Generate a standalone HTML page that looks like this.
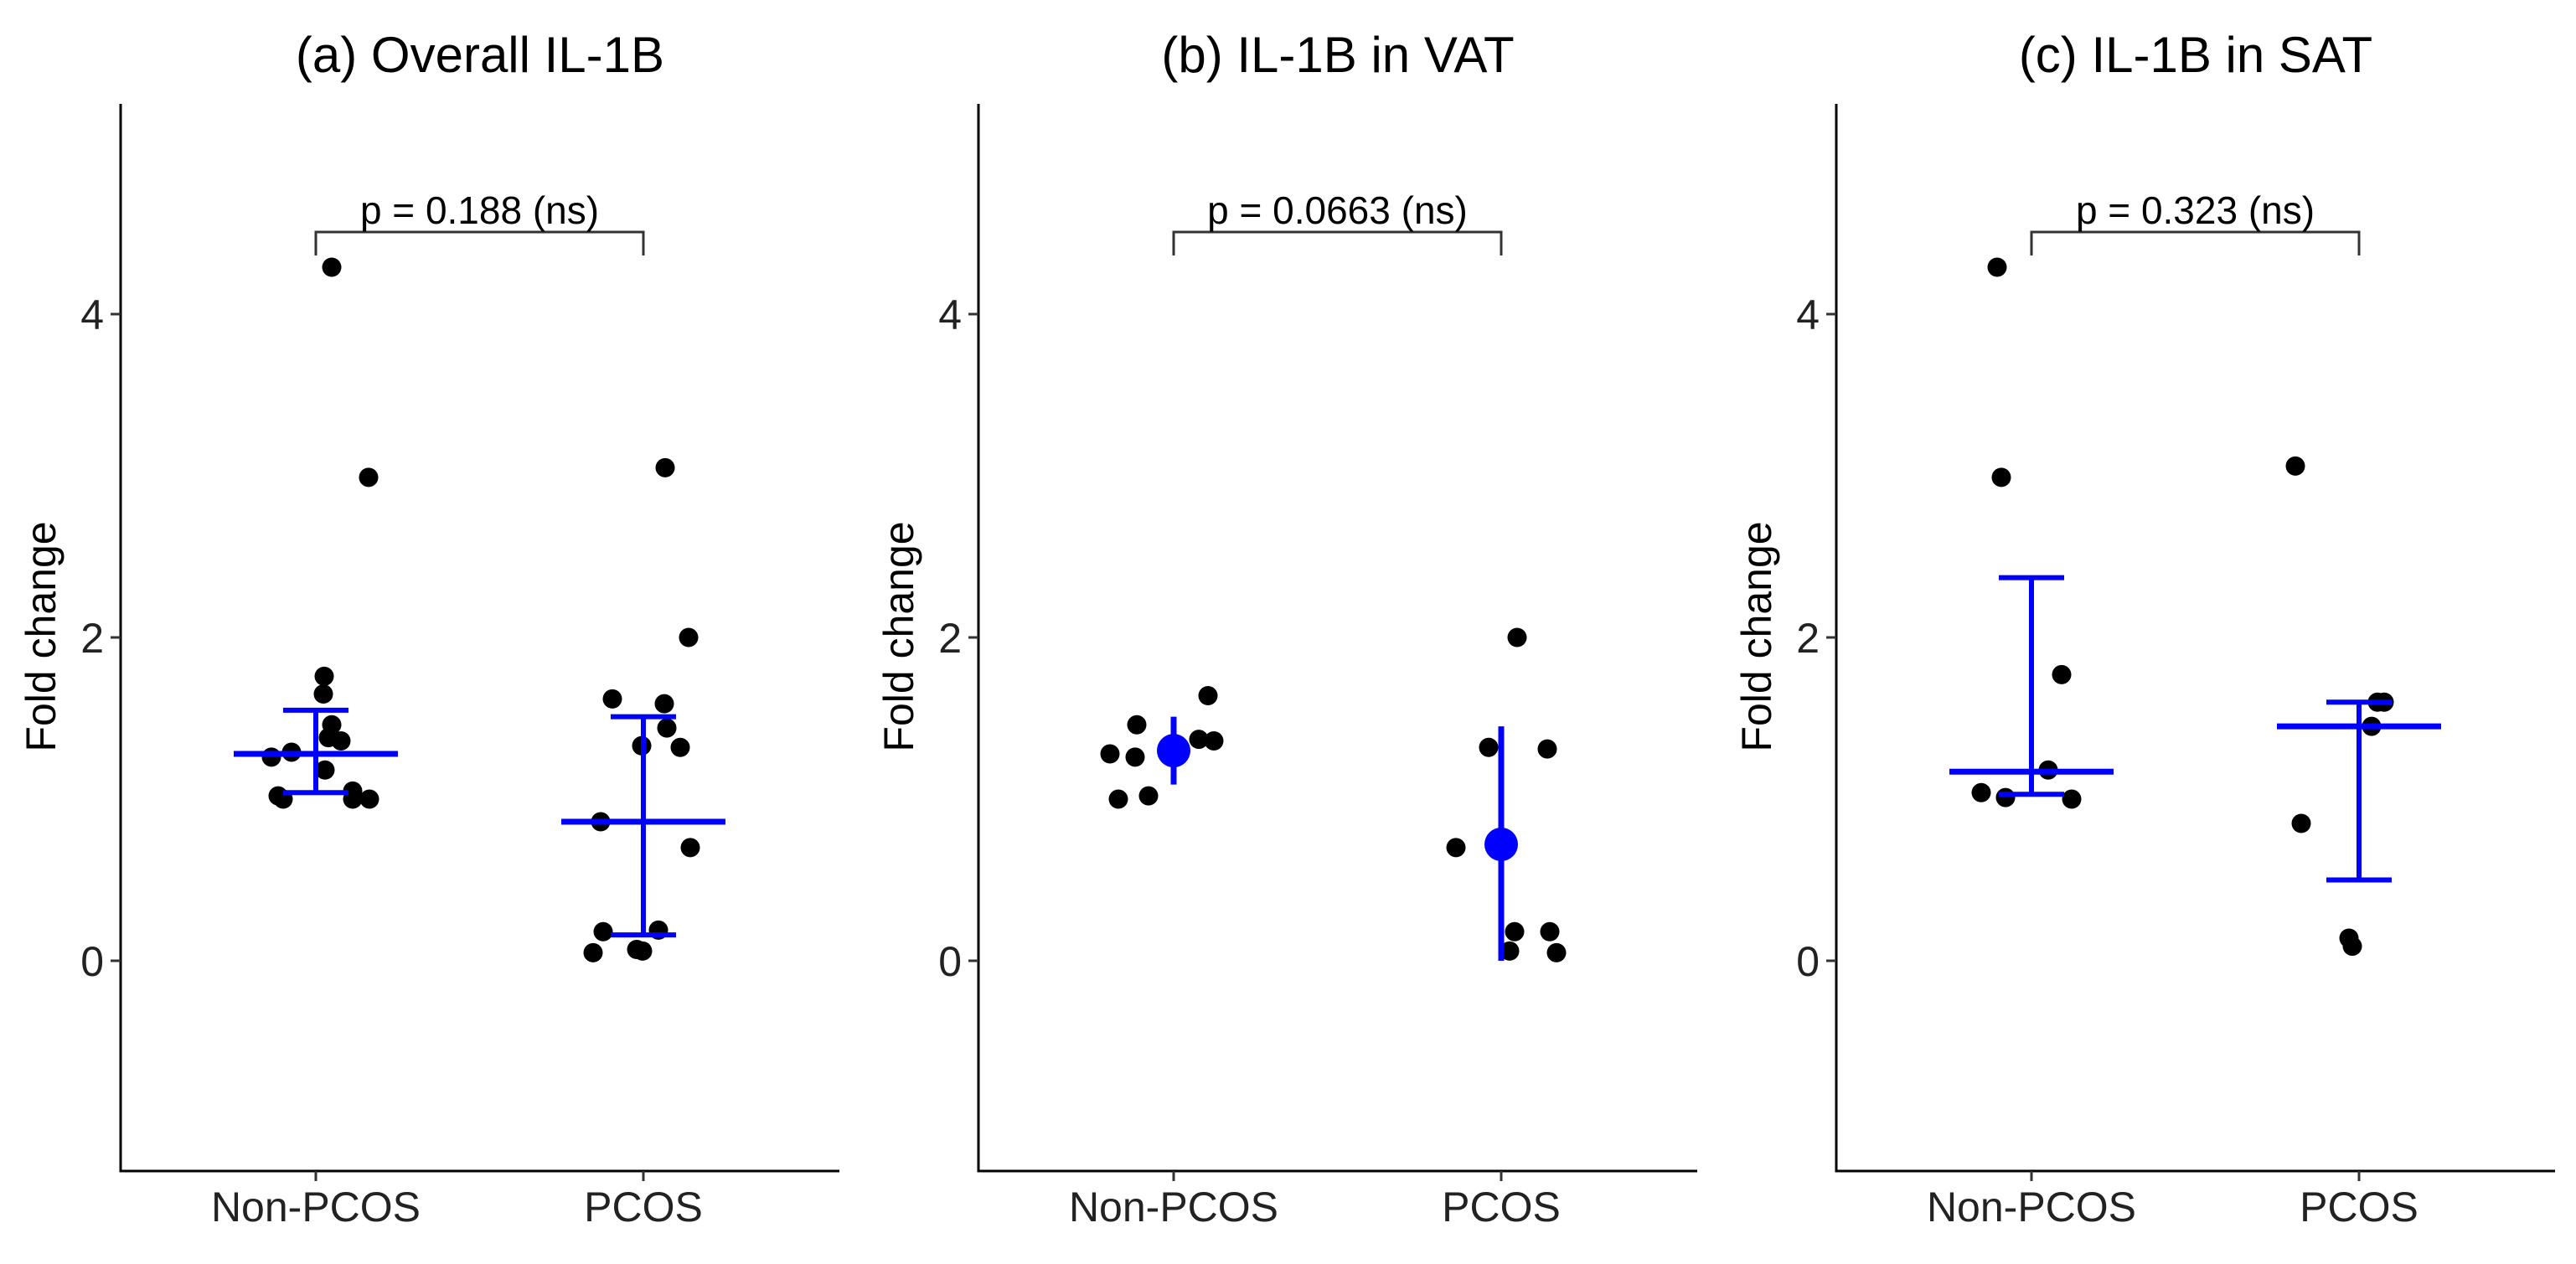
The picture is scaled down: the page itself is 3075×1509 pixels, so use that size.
<!DOCTYPE html>
<html><head><meta charset="utf-8"><style>
html,body{margin:0;padding:0;background:#fff;}
svg{display:block;font-family:"Liberation Sans",Arial,sans-serif;}
</style></head><body>
<svg id="chart" width="3075" height="1509" viewBox="0 0 3075 1509" xmlns="http://www.w3.org/2000/svg"></svg>
<script>
const categories = ["Non-PCOS", "PCOS"];
const titles = ["(a) Overall IL-1B", "(b) IL-1B in VAT", "(c) IL-1B in SAT"];
const pLabels = ["p = 0.188 (ns)", "p = 0.0663 (ns)", "p = 0.323 (ns)"];
const yTicks = [0, 2, 4];
// panel a
const aNonVals = [4.29, 2.99, 1.76, 1.65, 1.46, 1.38, 1.36, 1.26, 1.29, 1.18, 1.02, 1.0, 1.05, 1.0, 1.0];
const aNonJit = [19, 63, 10, 9, 19, 15, 30, -53, -29, 11, -45, -39, 44, 44, 64];
const aPcosVals = [3.05, 2.0, 1.62, 1.59, 1.44, 1.33, 1.32, 0.86, 0.70, 0.18, 0.19, 0.05, 0.07, 0.06];
const aPcosJit = [26, 54, -37, 25, 28, -2, 44, -51, 56, -48, 18, -60, -8, -1];
const aMean = [1.28, 0.86];
const aLow = [1.04, 0.16];
const aHigh = [1.55, 1.51];
// panel b
const bNonVals = [1.64, 1.46, 1.28, 1.26, 1.37, 1.36, 1.0, 1.02];
const bNonJit = [41, -44, -76, -46, 30, 48, -66, -30];
const bPcosVals = [2.0, 1.32, 1.31, 0.70, 0.18, 0.18, 0.06, 0.05];
const bPcosJit = [19, -15, 55, -54, 16, 58, 10, 66];
const bMean = [1.30, 0.72];
const bLow = [1.09, 0.0];
const bHigh = [1.51, 1.45];
// panel c
const cNonVals = [4.29, 2.99, 1.77, 1.18, 1.04, 1.01, 1.0];
const cNonJit = [-41, -36, 36, 20, -60, -31, 48];
const cPcosVals = [3.06, 1.60, 1.60, 1.45, 0.85, 0.14, 0.09];
const cPcosJit = [-76, 22, 30, 15, -69, -12, -8];
const cMean = [1.17, 1.45];
const cLow = [1.03, 0.50];
const cHigh = [2.37, 1.60];

const NS = "http://www.w3.org/2000/svg";
const svg = document.getElementById("chart");
function mk(tag, attrs, parent) {
  const e = document.createElementNS(NS, tag);
  for (const k in attrs) e.setAttribute(k, attrs[k]);
  (parent || svg).appendChild(e);
  return e;
}
const Y0 = 1147, UNIT = 193;
function yS(v) { return Y0 - UNIT * v; }

const panels = [
  {vals:[aNonVals,aPcosVals], jit:[aNonJit,aPcosJit], mean:aMean, low:aLow, high:aHigh, style:"crossbar"},
  {vals:[bNonVals,bPcosVals], jit:[bNonJit,bPcosJit], mean:bMean, low:bLow, high:bHigh, style:"pointrange"},
  {vals:[cNonVals,cPcosVals], jit:[cNonJit,cPcosJit], mean:cMean, low:cLow, high:cHigh, style:"crossbar"}
];

panels.forEach((p, i) => {
  const off = i * 1024;
  const axX = 144 + off, axEnd = 1002 + off, axTop = 124, axBot = 1398;
  function xS(ci) { return off + 377 + ci * 391; }
  const g = mk("g", {});
  
  

  const t = mk("text", {x: off + 573, y: 86, "font-size": 60, "text-anchor": "middle", fill: "#000"}, g);
  t.textContent = titles[i];
  
  

  const ya = mk("line", {x1: axX, y1: axTop, x2: axX, y2: axBot + 1.5, stroke: "#000", "stroke-width": 3}, g);
  
  
  const xa = mk("line", {x1: axX - 1.5, y1: axBot, x2: axEnd, y2: axBot, stroke: "#000", "stroke-width": 3}, g);
  
  

  yTicks.forEach(v => {
    mk("line", {x1: axX - 12, y1: yS(v), x2: axX, y2: yS(v), stroke: "#333", "stroke-width": 3}, g);
    const tl = mk("text", {x: axX - 20, y: yS(v) + 18, "font-size": 50, "text-anchor": "end", fill: "#222"}, g);
    tl.textContent = v;
    
    
  });
  categories.forEach((c, ci) => {
    mk("line", {x1: xS(ci), y1: axBot, x2: xS(ci), y2: axBot + 12, stroke: "#333", "stroke-width": 3}, g);
    const tl = mk("text", {x: xS(ci), y: 1458, "font-size": 50, "text-anchor": "middle", fill: "#222"}, g);
    tl.textContent = c;
    
    
  });
  const yl = mk("text", {x: 0, y: 0, "font-size": 50, "text-anchor": "middle", fill: "#000",
    transform: `translate(${off + 66},760) rotate(-90)`}, g);
  yl.textContent = "Fold change";
  
  

  // bracket
  const br = mk("path", {d: `M${xS(0)},305 L${xS(0)},277 L${xS(1)},277 L${xS(1)},305`, fill: "none", stroke: "#333", "stroke-width": 3}, g);
  
  
  const pt = mk("text", {x: (xS(0) + xS(1)) / 2, y: 267, "font-size": 46, "text-anchor": "middle", fill: "#000"}, g);
  pt.textContent = pLabels[i];
  
  

  // points
  p.vals.forEach((arr, ci) => {
    arr.forEach((v, k) => {
      const c = mk("circle", {cx: xS(ci) + p.jit[ci][k], cy: yS(v), r: 11.5, fill: "#000"}, g);
      
      
    });
  });
  // summaries
  categories.forEach((c, ci) => {
    const cx = xS(ci);
    if (p.style === "crossbar") {
      const e = mk("line", {x1: cx, y1: yS(p.high[ci]), x2: cx, y2: yS(p.low[ci]), stroke: "#0000ff", "stroke-width": 6}, g);
      
      
      [p.high[ci], p.low[ci]].forEach(v => {
        const cap = mk("line", {x1: cx - 39, y1: yS(v), x2: cx + 39, y2: yS(v), stroke: "#0000ff", "stroke-width": 6}, g);
        
        
      });
      const m = mk("line", {x1: cx - 98, y1: yS(p.mean[ci]), x2: cx + 98, y2: yS(p.mean[ci]), stroke: "#0000ff", "stroke-width": 7}, g);
      
      
    } else {
      const e = mk("line", {x1: cx, y1: yS(p.high[ci]), x2: cx, y2: yS(p.low[ci]), stroke: "#0000ff", "stroke-width": 7}, g);
      
      
      const m = mk("circle", {cx: cx, cy: yS(p.mean[ci]), r: 20, fill: "#0000ff"}, g);
      
      
    }
  });
});
</script>
</body></html>
